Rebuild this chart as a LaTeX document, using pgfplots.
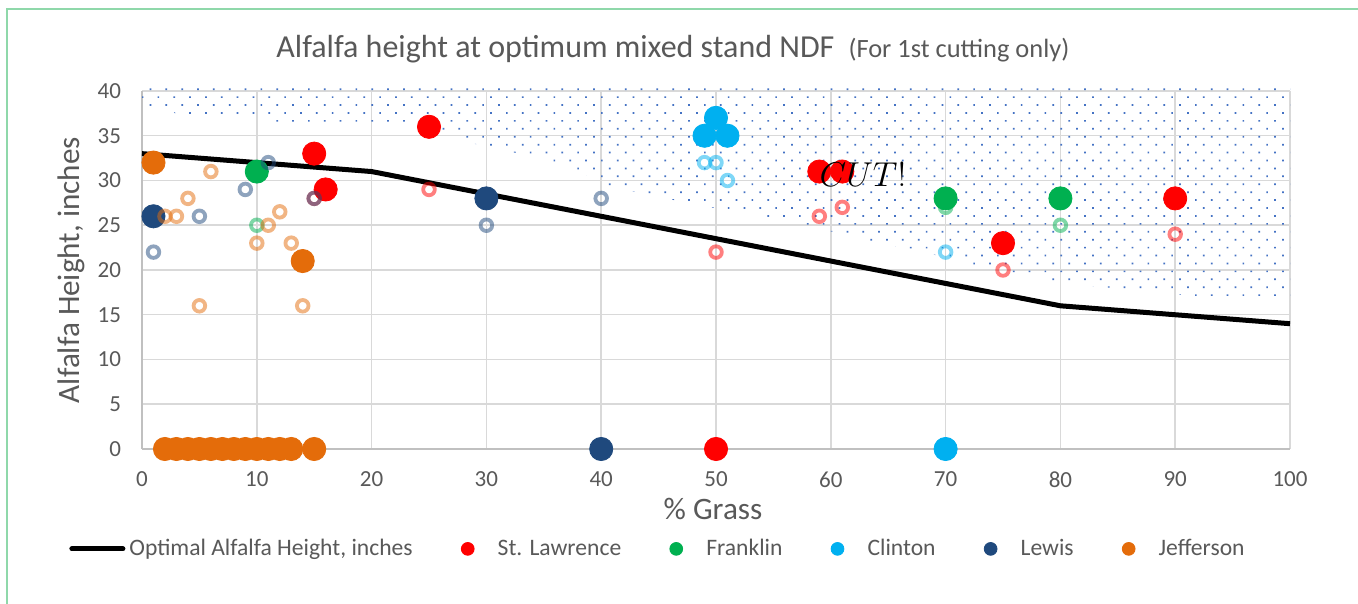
\documentclass[border=0pt]{standalone}
\usepackage{pgfplots}
\pgfplotsset{compat=1.18}
\usepackage{fontspec}
\setmainfont{Carlito}
\usetikzlibrary{patterns.meta}
\definecolor{txt}{HTML}{595959}
\definecolor{grd}{HTML}{D9D9D9}
\definecolor{axl}{HTML}{C0C0C0}
\definecolor{cRed}{HTML}{FF0000}
\definecolor{cGreen}{HTML}{00B050}
\definecolor{cCyan}{HTML}{00B0F0}
\definecolor{cLewis}{HTML}{1F497D}
\definecolor{cOrange}{HTML}{E46C0A}
\definecolor{frm}{HTML}{8FD8AA}
\definecolor{dotc}{HTML}{4472C4}

\begin{document}
\begin{tikzpicture}
\useasboundingbox (0,0) rectangle (679pt,302pt);
\fill[white] (0,0) rectangle (679pt,302pt);
\draw[frm, line width=0.8pt] (3.5pt,0) -- (3.5pt,297.5pt) -- (679pt,297.5pt);
\begin{axis}[
  at={(71pt,77.5pt)}, anchor=south west,
  scale only axis, width=574pt, height=179pt,
  xmin=0, xmax=100, ymin=0, ymax=40,
  xtick={0,10,...,100}, ytick={0,5,...,40},
  grid=major, grid style={grd, line width=0.75pt},
  axis lines=left, axis line style={axl, line width=1pt, -},
  major tick length=0pt,
  ticklabel style={font=\fontsize{11.5}{13}\selectfont, text=txt},
  /pgf/number format/assume math mode=true,
  xticklabel style={yshift=-8pt},
  yticklabel style={xshift=-7pt},
  clip=false,
  legend style={at={(-0.0636,-0.279)}, anchor=west, draw=none, fill=none, inner sep=0pt,
    font=\fontsize{11.8}{14}\selectfont, text=txt, nodes={inner xsep=2pt}},
  legend columns=-1,
  /tikz/every even column/.append style={column sep=19.5pt},
  legend image code/.code={\path[draw=none,fill=none] (-6pt,-3.5pt) rectangle (13pt,3.5pt); \draw[#1,mark size=3.2pt] plot coordinates {(0pt,0pt)};},
]
% dotted "cut" region
\addplot[draw=none, pattern={Dots[distance=5.6pt, angle=45, radius=0.6pt]}, pattern color=dotc, forget plot]
 coordinates {(0,40.3) (100,40.3) (100,16.7) (94,16.7) (88,17.6) (80,18.5) (77,19.5) (72,20.4)
 (70.7,21.2) (68,22) (64,23) (61,24) (56,25.6) (52,26.4) (48,27.4) (44,28.4) (41,29.3) (38,31)
 (35,32.6) (30,33.6) (26,35.6) (20,36.4) (11,36.6) (9,37.3) (3,37.3) (2.5,38.1) (0,38.1)} -- cycle;

% optimal line
\addplot[black, line width=2.5pt, line join=round,
  legend image code/.code={\draw[black,line width=2.5pt,line cap=round] (0pt,0pt)--(25.5pt,0pt);}]
 coordinates {(0,33) (10,32) (20,31) (30,28.5) (40,26) (50,23.5) (60,21) (70,18.5) (80,16) (90,15) (100,14)};
\addlegendentry{Optimal Alfalfa Height, inches}

% filled series
\addplot[only marks, mark=*, mark size=5.8pt, cRed]
 coordinates {(15,33) (16,29) (25,36) (50,0) (59,31) (61,31) (75,23) (90,28)};
\addlegendentry{St. Lawrence}
\addplot[only marks, mark=*, mark size=5.8pt, cGreen]
 coordinates {(10,31) (70,28) (80,28)};
\addlegendentry{Franklin}
\addplot[only marks, mark=*, mark size=5.8pt, cCyan]
 coordinates {(49,35) (50,37) (51,35) (70,0)};
\addlegendentry{Clinton}
\addplot[only marks, mark=*, mark size=5.8pt, cLewis]
 coordinates {(1,26) (30,28) (40,0)};
\addlegendentry{Lewis}
\addplot[only marks, mark=*, mark size=5.8pt, cOrange]
 coordinates {(1,32) (14,21) (2,0) (3,0) (4,0) (5,0) (6,0) (7,0) (8,0) (9,0) (10,0) (11,0) (12,0) (13,0) (15,0)};
\addlegendentry{Jefferson}

% open rings (semi-transparent)
\addplot[only marks, mark=o, mark size=2.9pt, cRed, mark options={line width=1.9pt, opacity=0.5}, forget plot]
 coordinates {(15,28) (25,29) (50,22) (59,26) (61,27) (75,20) (90,24)};
\addplot[only marks, mark=o, mark size=2.9pt, cGreen, mark options={line width=1.9pt, opacity=0.5}, forget plot]
 coordinates {(10,25) (70,27) (80,25)};
\addplot[only marks, mark=o, mark size=2.9pt, cCyan, mark options={line width=1.9pt, opacity=0.5}, forget plot]
 coordinates {(49,32) (50,32) (51,30) (70,22)};
\addplot[only marks, mark=o, mark size=2.9pt, cLewis, mark options={line width=1.9pt, opacity=0.5}, forget plot]
 coordinates {(1,22) (5,26) (9,29) (11,32) (15,28) (30,25) (40,28)};
\addplot[only marks, mark=o, mark size=2.9pt, cOrange, mark options={line width=1.9pt, opacity=0.5}, forget plot]
 coordinates {(2,26) (3,26) (4,28) (5,16) (6,31) (10,23) (11,25) (12,26.5) (13,23) (14,16)};

\coordinate (cutpos) at (axis cs:59.0,29.3);
\end{axis}
\node[anchor=base west, inner sep=0pt, font=\fontsize{16}{19}\selectfont] at (cutpos) {$CUT!$};
\node[anchor=base west, inner sep=0pt, text=txt, font=\fontsize{16}{19}\selectfont] at (138pt,273pt)
  {Alfalfa height at optimum mixed stand NDF\hspace{7pt}{\fontsize{13.2}{16}\selectfont (For 1st cutting only)}};
\node[anchor=base, inner sep=0pt, text=txt, font=\fontsize{15.6}{19}\selectfont] at (356.5pt,42pt) {\% Grass};
\node[rotate=90, anchor=center, text=txt, font=\fontsize{15.6}{19}\selectfont] at (35.8pt,167pt) {Alfalfa Height, inches};
\end{tikzpicture}
\end{document}
